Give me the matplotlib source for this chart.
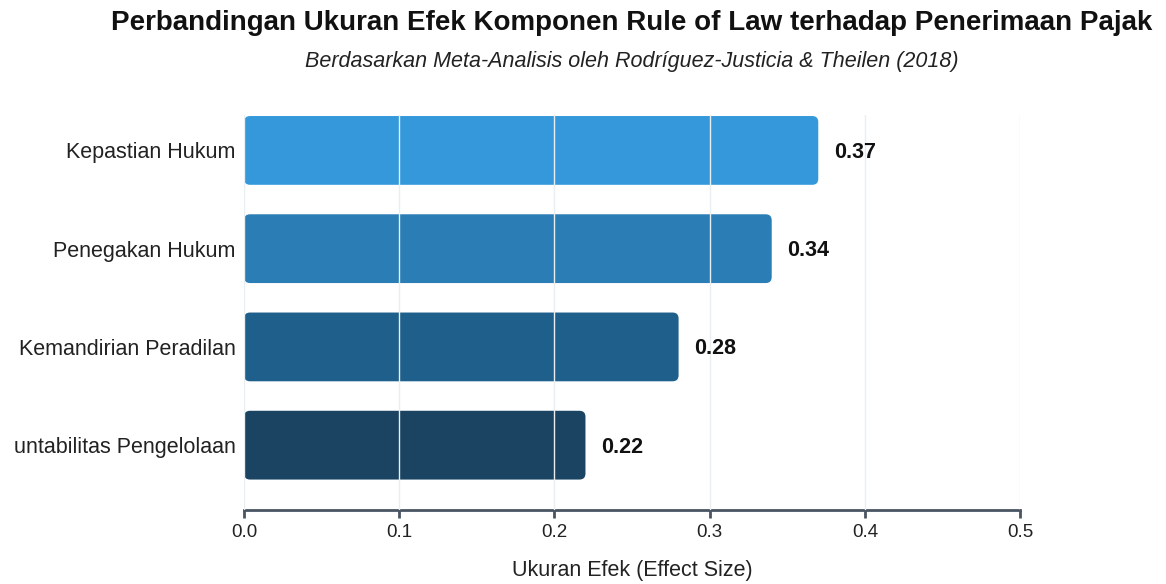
import matplotlib.pyplot as plt
from matplotlib.patches import FancyBboxPatch

plt.rcParams['font.family'] = ['Liberation Sans', 'DejaVu Sans']

# data
categories = ['Kepastian Hukum', 'Penegakan Hukum', 'Kemandirian Peradilan', 'untabilitas Pengelolaan']
effect_size = [0.37, 0.34, 0.28, 0.22]
bar_colors = ['#3498db', '#2a7db5', '#1f5f8b', '#1a4461']
x_ticks = [0.0, 0.1, 0.2, 0.3, 0.4, 0.5]

fig = plt.figure(figsize=(11.66, 5.84), dpi=100)
ax = fig.add_axes([0.2093, 0.1267, 0.6655, 0.6763])

ypos = list(range(len(categories)))[::-1]
bars = ax.barh(ypos, effect_size, height=0.7, color=bar_colors)

ax.set_xlim(0, 0.5)
ax.set_ylim(-0.66, 3.36)

# swap plain bars for rounded ones
fig.canvas.draw()
px_x = ax.transData.transform((1, 0))[0] - ax.transData.transform((0, 0))[0]
px_y = ax.transData.transform((0, 1))[1] - ax.transData.transform((0, 0))[1]
r_px = 6
for b in bars:
    x, y, w, h = b.get_x(), b.get_y(), b.get_width(), b.get_height()
    p = FancyBboxPatch((x, y), w, h,
                       boxstyle=f"round,pad=0,rounding_size={r_px / px_x}",
                       mutation_aspect=(px_x / px_y),
                       facecolor=b.get_facecolor(), edgecolor='none', zorder=2)
    ax.add_patch(p)
    b.remove()

# value labels
for y, v in zip(ypos, effect_size):
    ax.text(v + 0.01, y - 0.02, f'{v:.2f}', va='center', ha='left',
            fontsize=15.5, fontweight='bold', color='#111111', zorder=4)

# grid on top of bars
for t in x_ticks:
    ax.axvline(t, color='#e9eef0', lw=1, zorder=3)

ax.set_yticks(ypos)
ax.set_yticklabels(categories, fontsize=15.5, color='#222222')
ax.tick_params(axis='y', length=0, pad=6)
ax.set_xticks(x_ticks)
ax.set_xticklabels([f'{t:.1f}' for t in x_ticks], fontsize=13.5, color='#222222')
ax.tick_params(axis='x', length=6, width=2, color='#4a5563', pad=4)

for s in ['top', 'right', 'left']:
    ax.spines[s].set_visible(False)
ax.spines['bottom'].set_color('#4a5563')
ax.spines['bottom'].set_linewidth(2)

ax.set_xlabel('Ukuran Efek (Effect Size)', fontsize=15.5, color='#222222', labelpad=14)

fig.text(0.542, 0.960, 'Perbandingan Ukuran Efek Komponen Rule of Law terhadap Penerimaan Pajak',
         ha='center', va='center', fontsize=20, fontweight='bold', color='#111111')
fig.text(0.542, 0.895, 'Berdasarkan Meta-Analisis oleh Rodríguez-Justicia & Theilen (2018)',
         ha='center', va='center', fontsize=15.5, style='italic', color='#222222')

plt.savefig('out.png', dpi=100)
